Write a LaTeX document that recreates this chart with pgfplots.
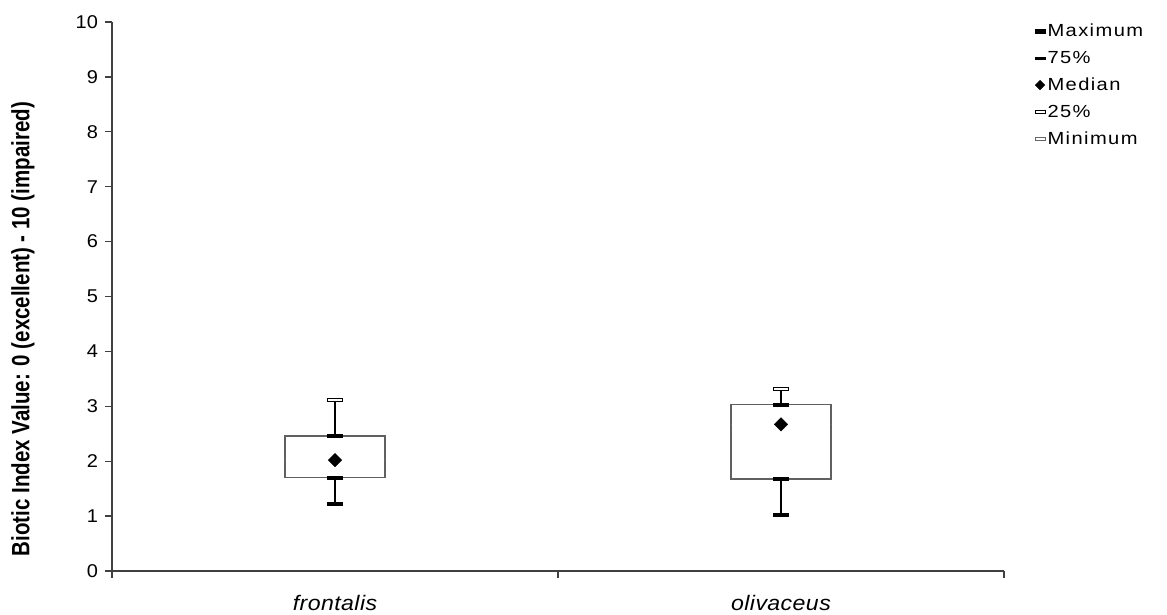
\documentclass[border=0pt]{standalone}
\usepackage{pgfplots}
\pgfplotsset{compat=1.18}
\usepackage{pgfplotstable}
\usepgfplotslibrary{statistics}
\usepackage{fontspec}
\setmainfont{Liberation Sans}
\newfontfamily\labfont[FakeStretch=0.82]{Liberation Sans}
\newfontfamily\legfont[FakeStretch=1.15, LetterSpace=8]{Liberation Sans}
\newfontfamily\xlabfont[FakeStretch=1.1, LetterSpace=2]{Liberation Sans}
\newfontfamily\tickfont[FakeStretch=1.08]{Liberation Sans}
\definecolor{boxgray}{HTML}{606060}
\definecolor{axgray}{HTML}{404040}

\pgfdeclareplotmark{hbar}{\pgfpathrectangle{\pgfqpoint{-7.5pt}{-1.6pt}}{\pgfqpoint{15pt}{3.2pt}}\pgfusepathqfillstroke}
\pgfdeclareplotmark{lbar}{\pgfpathrectangle{\pgfqpoint{-5pt}{-1.8pt}}{\pgfqpoint{10pt}{3.6pt}}\pgfusepathqfillstroke}
\pgfdeclareplotmark{lthin}{\pgfpathrectangle{\pgfqpoint{-5pt}{-1pt}}{\pgfqpoint{10pt}{2pt}}\pgfusepathqfillstroke}

\pgfplotstableread{
cat max q3 med q1 min
0.5 3.11 2.46 2.02 1.70 1.23
1.5 3.31 3.03 2.67 1.68 1.03
}\stats

\begin{document}
\begin{tikzpicture}
\useasboundingbox (0,0) rectangle (1167pt,614pt);
\begin{axis}[
  at={(112pt,43pt)}, anchor=south west,
  scale only axis, width=892pt, height=549pt,
  xmin=0, xmax=2, ymin=0, ymax=10,
  axis x line=bottom, axis y line=left,
  axis line style={-, draw=axgray, line width=1.4pt},
  tick style={draw=axgray, line width=1.4pt},
  tick align=outside,
  major tick length=6.5pt,
  xtick={0,1,2}, xticklabels={frontalis,olivaceus},
  x tick label as interval,
  xticklabel style={font=\xlabfont\itshape\fontsize{21}{23}\selectfont, yshift=-14pt},
  ytick={0,1,...,10},
  yticklabel style={font=\tickfont\fontsize{18.5}{20}\selectfont, xshift=-4pt},
  /pgf/number format/assume math mode=true,
  ylabel={Biotic Index Value: 0 (excellent) - 10 (impaired)},
  ylabel style={font=\labfont\bfseries\fontsize{25}{27}\selectfont, at={(axis description cs:-0.0998,0.4408)}, anchor=center},
  legend style={at={(axis description cs:1.034,1.0)}, anchor=north west, draw=none, fill=none,
    font=\legfont\fontsize{17.5}{19}\selectfont, row sep=9pt, inner sep=0pt,
    cells={anchor=west}},
  legend image code/.code={\path (0pt,0pt) (11pt,0pt); \draw[#1] plot coordinates {(5.5pt,0pt)};},
  clip=false,
]
% whiskers and boxes
\addplot[forget plot, draw=boxgray, fill=white, line width=1.6pt,
  boxplot/draw direction=y,
  boxplot/every whisker/.style={draw=black, line width=1.8pt},
  boxplot/every median/.style={draw=none},
  boxplot/whisker extend=0,
  boxplot/box extend=0.224,
  boxplot prepared={draw position=0.5, lower whisker=1.23, lower quartile=1.70, median=2.02, upper quartile=2.46, upper whisker=3.11}]
  coordinates {};
\addplot[forget plot, draw=boxgray, fill=white, line width=1.6pt,
  boxplot/draw direction=y,
  boxplot/every whisker/.style={draw=black, line width=1.8pt},
  boxplot/every median/.style={draw=none},
  boxplot/whisker extend=0,
  boxplot/box extend=0.224,
  boxplot prepared={draw position=1.5, lower whisker=1.03, lower quartile=1.68, median=2.67, upper quartile=3.03, upper whisker=3.31}]
  coordinates {};
% markers
\addplot[forget plot, only marks, mark=hbar, mark options={draw=black, fill=white, line width=0.9pt}] table[x=cat, y=max]{\stats};
\addplot[forget plot, only marks, mark=hbar, mark options={draw=black, fill=black, line width=0.5pt}] table[x=cat, y=q3]{\stats};
\addplot[forget plot, only marks, mark=square*, mark size=4.8pt, mark options={draw=black, fill=black, rotate=45}] table[x=cat, y=med]{\stats};
\addplot[forget plot, only marks, mark=hbar, mark options={draw=black, fill=black, line width=0.5pt}] table[x=cat, y=q1]{\stats};
\addplot[forget plot, only marks, mark=hbar, mark options={draw=black, fill=black, line width=0.5pt}] table[x=cat, y=min]{\stats};
% legend
\addlegendimage{draw=none, mark=lbar, mark options={draw=black, fill=black, line width=0.4pt}}
\addlegendentry{Maximum}
\addlegendimage{draw=none, mark=lthin, mark options={draw=black, fill=black, line width=0.4pt}}
\addlegendentry{75\%}
\addlegendimage{draw=none, mark=square*, mark size=3.4pt, mark options={draw=black, fill=black, rotate=45}}
\addlegendentry{Median}
\addlegendimage{draw=none, mark=lbar, mark options={draw=black, fill=white, line width=0.9pt}}
\addlegendentry{25\%}
\addlegendimage{draw=none, mark=lbar, mark options={draw=black!60, fill=white, line width=0.9pt}}
\addlegendentry{Minimum}
\end{axis}
\end{tikzpicture}
\end{document}
